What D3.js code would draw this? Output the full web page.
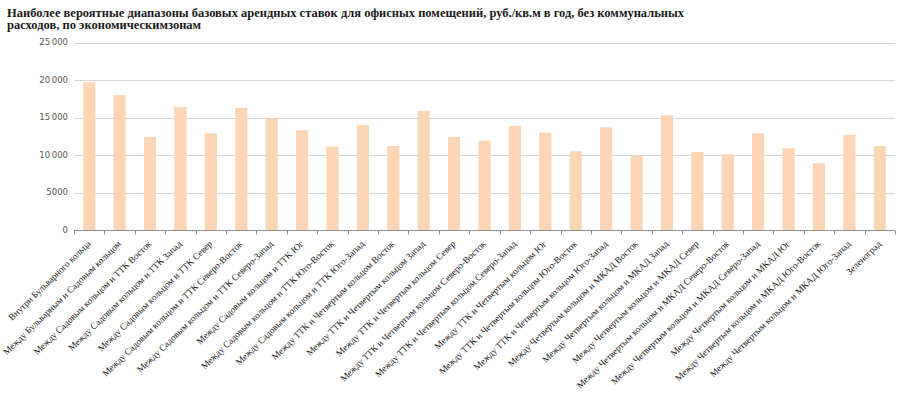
<!DOCTYPE html>
<html>
<head>
<meta charset="utf-8">
<script src="https://cdn.jsdelivr.net/npm/d3@7"></script>
<style>
  body { margin: 0; background: #fff; }
  .serif { font-family: "Liberation Serif", "DejaVu Serif", serif; }
  .sans { font-family: "DejaVu Sans", sans-serif; }
</style>
</head>
<body>
<div id="chart"></div>
<script>
var categories = [
    "Внутри Бульварного кольца",
    "Между Бульварным и Садовым кольцом",
    "Между Садовым кольцом и ТТК Восток",
    "Между Садовым кольцом и ТТК Запад",
    "Между Садовым кольцом и ТТК Север",
    "Между Садовым кольцом и ТТК Северо-Восток",
    "Между Садовым кольцом и ТТК Северо-Запад",
    "Между Садовым кольцом и ТТК Юг",
    "Между Садовым кольцом и ТТК Юго-Восток",
    "Между Садовым кольцом и ТТК Юго-Запад",
    "Между ТТК и Четвертым кольцом Восток",
    "Между ТТК и Четвертым кольцом Запад",
    "Между ТТК и Четвертым кольцом Север",
    "Между ТТК и Четвертым кольцом Северо-Восток",
    "Между ТТК и Четвертым кольцом Северо-Запад",
    "Между ТТК и Четвертым кольцом Юг",
    "Между ТТК и Четвертым кольцом Юго-Восток",
    "Между ТТК и Четвертым кольцом Юго-Запад",
    "Между Четвертым кольцом и МКАД Восток",
    "Между Четвертым кольцом и МКАД Запад",
    "Между Четвертым кольцом и МКАД Север",
    "Между Четвертым кольцом и МКАД Северо-Восток",
    "Между Четвертым кольцом и МКАД Северо-Запад",
    "Между Четвертым кольцом и МКАД Юг",
    "Между Четвертым кольцом и МКАД Юго-Восток",
    "Между Четвертым кольцом и МКАД Юго-Запад",
    "Зеленоград"
];

var rates = [19700, 18000, 12400, 16400, 12900, 16300, 14900, 13300, 11100, 14000,
             11200, 15900, 12400, 11900, 13900, 13000, 10500, 13700,
             9900, 15300, 10400, 10100, 12900, 10900, 8900, 12700, 11200];

var yTicks = [0, 5000, 10000, 15000, 20000, 25000];

var titleLines = [
    "Наиболее вероятные диапазоны базовых арендных ставок для офисных помещений, руб./кв.м в год, без коммунальных",
    "расходов, по экономическимзонам"
];

var width = 900, height = 395;
var margin = {top: 42.5, right: 5, bottom: 165, left: 74};

var svg = d3.select("#chart")
    .append("svg")
        .attr("width", width)
        .attr("height", height)

var x = d3.scaleBand()
    .domain(categories)
    .range([margin.left, width - margin.right])
    .paddingInner(0.6)
    .paddingOuter(0.3)

var y = d3.scaleLinear()
    .domain([0, 25000])
    .range([height - margin.bottom, margin.top])

// title
svg.append("g")
    .attr("class", "serif")
    .attr("font-weight", "bold")
    .attr("font-size", 12.5)
    .attr("fill", "#1a1a1a")
    .selectAll("text")
    .data(titleLines)
    .join("text")
        .attr("x", 7)
        .attr("y", (d, i) => 17 + i * 12)
        .text(d => d)

// gridlines
svg.append("g")
    .attr("stroke", "#d4d4d4")
    .attr("stroke-width", 1)
    .selectAll("line")
    .data(yTicks.filter(d => d > 0))
    .join("line")
        .attr("x1", margin.left)
        .attr("x2", width - margin.right)
        .attr("y1", d => Math.round(y(d)) + 0.5)
        .attr("y2", d => Math.round(y(d)) + 0.5)

// y labels
var fmt = d => d >= 10000 ? d3.format(",")(d).replace(",", "\u2009") : String(d);
svg.append("g")
    .attr("class", "sans")
    .attr("font-size", 8.5)
    .attr("fill", "#555")
    .attr("text-anchor", "end")
    .selectAll("text")
    .data(yTicks)
    .join("text")
        .attr("x", 68)
        .attr("y", d => y(d))
        .attr("dy", "0.35em")
        .text(fmt)

// bars
svg.append("g")
    .attr("fill", "#fcd5b4")
    .selectAll("rect")
    .data(rates)
    .join("rect")
        .attr("x", (d, i) => x(categories[i]))
        .attr("width", x.bandwidth())
        .attr("y", d => y(d))
        .attr("height", d => y(0) - y(d))

// x axis line + ticks between categories
var step = x.step();
var axisY = Math.round(y(0)) + 0.5;
var ax = svg.append("g")
    .attr("stroke", "#8c8c8c")
    .attr("stroke-width", 1)
ax.append("line")
    .attr("x1", margin.left)
    .attr("x2", width - margin.right)
    .attr("y1", axisY)
    .attr("y2", axisY)
ax.selectAll("line.tick")
    .data(d3.range(categories.length + 1))
    .join("line")
        .attr("class", "tick")
        .attr("x1", i => Math.round(margin.left + i * step) + 0.5)
        .attr("x2", i => Math.round(margin.left + i * step) + 0.5)
        .attr("y1", axisY)
        .attr("y2", axisY + 4)

// x labels
svg.append("g")
    .attr("class", "serif")
    .attr("font-size", 9.3)
    .attr("fill", "#222")
    .attr("text-anchor", "end")
    .selectAll("text")
    .data(categories)
    .join("text")
        .attr("transform", d => "translate(" + (x(d) + x.bandwidth() / 2 + 2) + "," + (axisY + 14) + ") rotate(-44)")
        .text(d => d)
</script>
</body>
</html>
